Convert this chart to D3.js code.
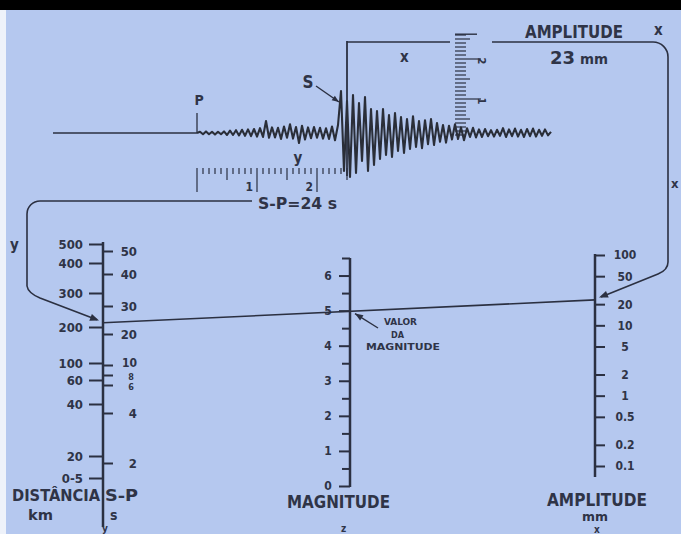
<!DOCTYPE html>
<html><head><meta charset="utf-8">
<script src="https://cdn.jsdelivr.net/npm/d3@7"></script>
<style>
html,body{margin:0;padding:0;background:#fff;overflow:hidden}
svg{display:block}
text{font-family:"Liberation Sans Narrow","Arial Narrow","DejaVu Sans Condensed","Liberation Sans",Arial,sans-serif;font-weight:bold;fill:#2f3447}
</style></head><body>
<script>
// ---------------- data ----------------
const distanceTicks = [500, 400, 300, 200, 100, 60, 40, 20, 5];
const distanceLabels = ["500", "400", "300", "200", "100", "60", "40", "20", "0-5"];
const spTicks = [50, 40, 30, 20, 10, 8, 6, 4, 2];
const spLabels = ["50", "40", "30", "20", "10", "8", "6", "4", "2"];
const magnitudeMajor = [0, 1, 2, 3, 4, 5, 6];
const magnitudeMinor = [0.5, 1.5, 2.5, 3.5, 4.5, 5.5, 6.5];
const amplitudeTicks = [100, 50, 20, 10, 5, 2, 1, 0.5, 0.2, 0.1];
const amplitudeLabels = ["100", "50", "20", "10", "5", "2", "1", "0.5", "0.2", "0.1"];
const spReading = 24;          // s
const amplitudeReading = 23;   // mm
const magnitudeReading = 5;
const timeRulerTicks = [0,1,2,3,4,5,6,7,8,9,10,11,12,13,14,15,16,17,18,19,20,21,22,23,24,25]; // s
const timeRulerLabels = [{t:10, s:"1"}, {t:20, s:"2"}];
const mmRulerTicks = [1,2,3,4,5,6,7,8,9,10,11,12,13,14,15,16,17,18,19,20,21,22,23,24,25,26]; // mm
const mmRulerLabels = [{v:10, s:"1"}, {v:20, s:"2"}];
// seismogram trace, amplitude in mm, one sample every 0.5 s after P arrival
const seismogram = [
  0, 0.3, -0.3, 0.4, -0.3, 0.3, -0.4, 0.3, -0.3, 0.4,
  -0.5, 0.6, -0.5, 0.7, -0.6, 0.8, -0.7, 0.9, -0.8, 1.0,
  -0.9, 1.2, -1.0, 3.0, -1.2, 1.4, -1.1, 1.3, -1.5, 1.6,
  -1.2, 2.2, -1.4, 1.5, -2.5, 1.8, -1.6, 1.4, -1.3, 1.5,
  -1.2, 1.3, -1.4, 1.2, -1.5, 1.6, -1.8, 2.0,
  10.5, -9.5,
  8.0, -11.0, 9.5, -10.0, 7.5, -7.0, 9.0, -9.5, 6.0, -8.0,
  5.5, -6.5, 6.0, -5.5, 4.5, -6.0, 5.0, -4.5, 4.0, -5.0,
  3.5, -4.0, 4.2, -3.5, 3.0, -3.8, 3.2, -2.8, 3.5, -3.0,
  2.5, -2.2, 2.0, -2.4, 1.8, -1.6, 2.2, -1.5, 1.4, -1.8,
  1.2, -1.0, 1.3, -1.1, 0.9, -1.0, 1.0, -0.8, 0.7, -0.9,
  0.8, -0.7, 1.2, -1.0, 0.9, -0.8, 1.1, -0.9, 0.8, -1.0,
  1.0, -0.8, 1.1, -0.9, 0.8, -0.7, 0.9, -0.6, 0.3
];
const sampleStep = 0.5; // s
const preP = -24;       // s, start of flat trace

// ---------------- layout ----------------
const W = 681, H = 534, INK = "#2b3041", BG = "#b5c8ef";
const xDist = 103, xMag = 350, xAmp = 595;

const svg = d3.select("body").append("svg").attr("width", W).attr("height", H);
svg.append("rect").attr("width", W).attr("height", H).attr("fill", "#eef2fa");
svg.append("rect").attr("x", 6).attr("y", 10).attr("width", W - 6).attr("height", H - 10).attr("fill", BG);
svg.append("rect").attr("width", W).attr("height", 10).attr("fill", "#000");

// scales
const distY = d3.scaleLinear().domain(distanceTicks).range([244, 263, 293, 327, 363, 380, 404, 456, 478]);
const spY = d3.scaleLinear().domain(spTicks).range([251, 274, 306, 334, 365, 375, 385, 413, 463]);
const magY = d3.scaleLinear().domain([0, 6.5]).range([486, 258]);
const ampY = d3.scaleLog().domain([0.1, 100]).range([466, 255]);
const tX = d3.scaleLinear().domain([0, 10]).range([197, 257]);
const seisY = d3.scaleLinear().domain([0, 10]).range([133, 93]);
const rulerY = d3.scaleLinear().domain([0, 10]).range([139, 99]);

function styleAxis(g, size) {
  g.select(".domain").remove();
  g.selectAll(".tick line").attr("stroke", INK).attr("stroke-width", 2);
  g.selectAll(".tick text").attr("fill", INK).style("font-size", size + "px").attr("font-weight", "bold");
}

// ---- distance / S-P axis ----
svg.append("line").attr("x1", xDist).attr("x2", xDist).attr("y1", 242).attr("y2", 527)
  .attr("stroke", INK).attr("stroke-width", 2.5);
const gDist = svg.append("g").attr("transform", `translate(${xDist},0)`)
  .call(d3.axisLeft(distY).tickValues(distanceTicks).tickFormat((d, i) => distanceLabels[i]).tickSize(14).tickPadding(6).tickSizeOuter(0));
styleAxis(gDist, 13);
const gSP = svg.append("g").attr("transform", `translate(${xDist},0)`)
  .call(d3.axisRight(spY).tickValues(spTicks).tickFormat((d, i) => spLabels[i]).tickSize(10).tickSizeOuter(0));
styleAxis(gSP, 13);
gSP.selectAll(".tick text").attr("text-anchor", "end").attr("x", 34);
gSP.selectAll(".tick text").filter(d => d === 10).style("font-size", "12px").attr("dy", "0.1em");
gSP.selectAll(".tick text").filter(d => d === 8 || d === 6).style("font-size", "9px").attr("x", 31).attr("dy", "0.45em");

// ---- magnitude axis ----
svg.append("line").attr("x1", xMag).attr("x2", xMag).attr("y1", magY(6.5)).attr("y2", magY(0) + 1)
  .attr("stroke", INK).attr("stroke-width", 2.5);
const gMagMinor = svg.append("g").attr("transform", `translate(${xMag},0)`)
  .call(d3.axisLeft(magY).tickValues(magnitudeMinor).tickFormat("").tickSize(8).tickSizeOuter(0));
styleAxis(gMagMinor, 12);
const gMag = svg.append("g").attr("transform", `translate(${xMag},0)`)
  .call(d3.axisLeft(magY).tickValues(magnitudeMajor).tickFormat(d3.format("d")).tickSize(11).tickSizeOuter(0));
styleAxis(gMag, 12);
gMag.selectAll(".tick text").attr("text-anchor", "middle").attr("x", -22);

// ---- amplitude axis ----
svg.append("line").attr("x1", xAmp).attr("x2", xAmp).attr("y1", ampY(100) - 1).attr("y2", 477)
  .attr("stroke", INK).attr("stroke-width", 2.5);
const gAmp = svg.append("g").attr("transform", `translate(${xAmp},0)`)
  .call(d3.axisRight(ampY).tickValues(amplitudeTicks).tickFormat((d, i) => amplitudeLabels[i]).tickSize(10).tickSizeOuter(0));
styleAxis(gAmp, 12);
gAmp.selectAll(".tick text").attr("text-anchor", "middle").attr("x", 30);

// ---- axis titles ----
function label(txt, x, y, size, opts = {}) {
  const t = svg.append("text").attr("x", x).attr("y", y).style("font-size", size + "px")
    .attr("text-anchor", opts.anchor || "start").attr("fill", INK).text(txt);
  if (opts.len) t.attr("textLength", opts.len).attr("lengthAdjust", "spacingAndGlyphs");
  if (opts.weight) t.attr("font-weight", opts.weight);
  return t;
}
label("DISTÂNCIA", 12, 501, 16, {len: 88});
label("S-P", 105, 501, 16, {len: 33});
label("km", 28, 520, 14, {len: 25});
label("s", 110, 520, 14);
label("y", 102, 532, 10);
label("MAGNITUDE", 287, 508, 17, {len: 103});
label("z", 341, 532, 10);
label("AMPLITUDE", 547, 506, 17, {len: 100});
label("mm", 582, 521, 13, {len: 26});
label("x", 594, 533, 10);
label("y", 10, 250, 15);

// ---- nomogram reading line ----
svg.append("line")
  .attr("x1", xDist).attr("y1", spY(spReading))
  .attr("x2", xAmp).attr("y2", ampY(amplitudeReading))
  .attr("stroke", INK).attr("stroke-width", 1.6);

// valor da magnitude annotation
label("VALOR", 384, 325, 9, {len: 33, weight: "normal"});
label("DA", 391, 338, 9, {len: 13, weight: "normal"});
label("MAGNITUDE", 366, 350, 9, {len: 74, weight: "normal"});

function arrowHead(x, y, angle, size = 8) {
  const a = angle, s = size;
  const p = [[x, y],
    [x - s * Math.cos(a) + s * 0.4 * Math.sin(a), y - s * Math.sin(a) - s * 0.4 * Math.cos(a)],
    [x - s * Math.cos(a) - s * 0.4 * Math.sin(a), y - s * Math.sin(a) + s * 0.4 * Math.cos(a)]];
  svg.append("path").attr("d", d3.line()(p) + "Z").attr("fill", INK);
}
function arrowLine(x1, y1, x2, y2, w = 1.4, s = 8) {
  svg.append("line").attr("x1", x1).attr("y1", y1).attr("x2", x2).attr("y2", y2)
    .attr("stroke", INK).attr("stroke-width", w);
  arrowHead(x2, y2, Math.atan2(y2 - y1, x2 - x1), s);
}
arrowLine(378, 328, xMag + 5, magY(magnitudeReading) + 3, 1.4, 8);

// ---- left bent arrow: S-P reading to S-P scale ----
{
  const yTip = spY(spReading) - 3;
  const p = d3.path();
  p.moveTo(252, 201);
  p.lineTo(40, 201);
  p.arcTo(27, 201, 27, 214, 13);
  p.lineTo(27, 286);
  p.quadraticCurveTo(28, 293, 40, 298);
  p.lineTo(97, yTip);
  svg.append("path").attr("d", p.toString()).attr("fill", "none").attr("stroke", INK).attr("stroke-width", 1.6);
  arrowHead(99, yTip + 0.7, Math.atan2(yTip - 298, 97 - 40), 9);
}
// ---- right bent arrow: amplitude reading to amplitude scale ----
{
  const yTip = ampY(amplitudeReading) - 3;
  const p = d3.path();
  p.moveTo(492, 42);
  p.lineTo(653, 42);
  p.arcTo(668, 42, 668, 57, 15);
  p.lineTo(668, 262);
  p.quadraticCurveTo(668, 270, 658, 274);
  p.lineTo(601, yTip);
  svg.append("path").attr("d", p.toString()).attr("fill", "none").attr("stroke", INK).attr("stroke-width", 1.6);
  arrowHead(599, yTip + 0.7, Math.atan2(yTip - 274, 601 - 658), 9);
  svg.append("line").attr("x1", tX(25)).attr("x2", 450).attr("y1", 42).attr("y2", 42)
    .attr("stroke", INK).attr("stroke-width", 1.6);
  svg.append("line").attr("x1", tX(25)).attr("x2", tX(25)).attr("y1", 41).attr("y2", 176)
    .attr("stroke", INK).attr("stroke-width", 1.8);
}
label("AMPLITUDE", 525, 38, 17, {len: 98});
label("x", 654, 35, 15);
label("23", 550, 64, 18, {len: 25});
label("mm", 580, 64, 14, {len: 28});
label("x", 400, 62, 15);
label("x", 671, 188, 13);

// ---- vertical mm ruler ----
svg.append("g").selectAll("line").data(mmRulerTicks).join("line")
  .attr("x1", 455).attr("x2", d => d % 5 === 0 ? 470 : 466)
  .attr("y1", d => rulerY(d)).attr("y2", d => rulerY(d))
  .attr("stroke", INK).attr("stroke-width", 1.2);
svg.append("line").attr("x1", 455).attr("x2", 477).attr("y1", rulerY(26.2)).attr("y2", rulerY(26.2))
  .attr("stroke", INK).attr("stroke-width", 1.4);
mmRulerLabels.forEach(d => {
  svg.append("line").attr("x1", 470).attr("x2", 481).attr("y1", rulerY(d.v)).attr("y2", rulerY(d.v))
    .attr("stroke", INK).attr("stroke-width", 1.2);
  svg.append("text").attr("transform", `translate(478,${rulerY(d.v) + 2}) rotate(90)`)
    .attr("text-anchor", "middle").style("font-size", "11px").attr("fill", INK).text(d.s);
});

// ---- seismogram ----
svg.append("line").attr("x1", tX(preP)).attr("x2", tX(0)).attr("y1", seisY(0)).attr("y2", seisY(0))
  .attr("stroke", INK).attr("stroke-width", 1.6);
svg.append("path")
  .datum(seismogram)
  .attr("d", d3.line().x((d, i) => tX(i * sampleStep)).y(d => seisY(d)))
  .attr("fill", "none").attr("stroke", "#2a2e38").attr("stroke-width", 2.1).attr("stroke-linejoin", "round");
svg.append("line").attr("x1", tX(0)).attr("x2", tX(0)).attr("y1", 113).attr("y2", 133)
  .attr("stroke", INK).attr("stroke-width", 1.3);
label("P", 199, 105, 14, {anchor: "middle"});
label("S", 308, 88, 17, {anchor: "middle"});
arrowLine(316, 86, 339, 102, 1.4, 7);

// ---- time ruler ----
svg.append("g").selectAll("line").data(timeRulerTicks).join("line")
  .attr("x1", d => tX(d)).attr("x2", d => tX(d))
  .attr("y1", 168)
  .attr("y2", d => d % 10 === 0 ? 192 : (d % 5 === 0 ? 180 : 174))
  .attr("stroke", INK).attr("stroke-width", 1.2);
timeRulerLabels.forEach(d => label(d.s, tX(d.t) - 4, 191, 12, {anchor: "end"}));
label("y", 298, 163, 15, {anchor: "middle"});
label("S-P=24 s", 258, 209, 16, {len: 79});
</script>
</body></html>
